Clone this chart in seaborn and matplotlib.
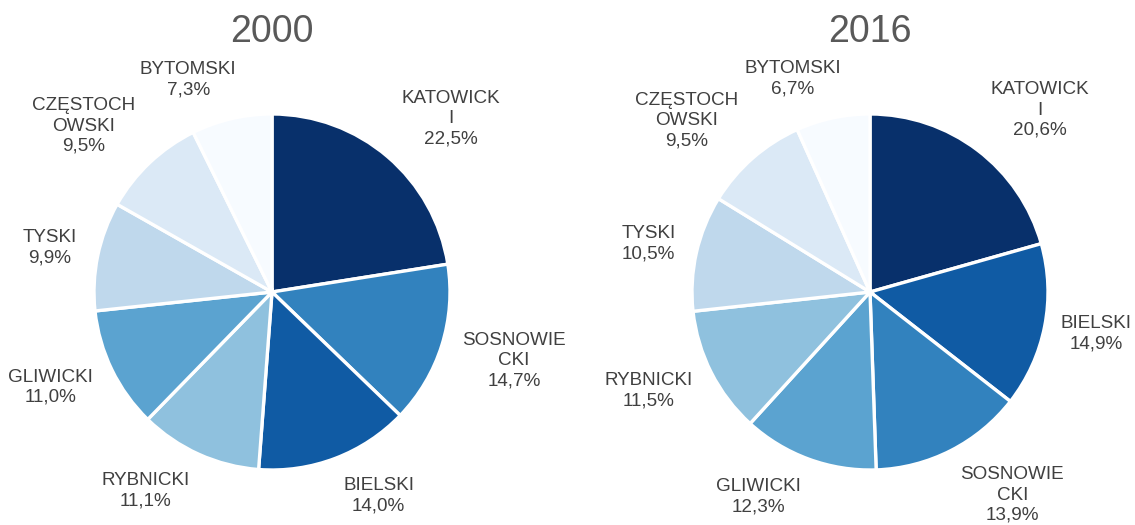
import textwrap
import numpy as np
import matplotlib
matplotlib.use("Agg")
import matplotlib.pyplot as plt
import seaborn as sns

# ---- data ----
categories_2000 = ["KATOWICKI", "SOSNOWIECKI", "BIELSKI", "RYBNICKI",
                   "GLIWICKI", "TYSKI", "CZĘSTOCHOWSKI", "BYTOMSKI"]
values_2000 = [22.5, 14.7, 14.0, 11.1, 11.0, 9.9, 9.5, 7.3]

categories_2016 = ["KATOWICKI", "BIELSKI", "SOSNOWIECKI", "GLIWICKI",
                   "RYBNICKI", "TYSKI", "CZĘSTOCHOWSKI", "BYTOMSKI"]
values_2016 = [20.6, 14.9, 13.9, 12.3, 11.5, 10.5, 9.5, 6.7]

titles = ["2000", "2016"]

category_colors = {
    "KATOWICKI": "#08306b",
    "BIELSKI": "#105ba4",
    "SOSNOWIECKI": "#3282be",
    "GLIWICKI": "#5ba3d0",
    "RYBNICKI": "#8fc1de",
    "TYSKI": "#bfd8ec",
    "CZĘSTOCHOWSKI": "#dbe9f6",
    "BYTOMSKI": "#f7fbff",
}

# ---- style ----
sns.set_theme(style="white")
plt.rcParams['font.family'] = ['Liberation Sans', 'DejaVu Sans']

W, H, DPI = 1135, 525, 100
R = 178.0  # pie radius in pixels
LABEL_COLOR = "#404040"
TITLE_COLOR = "#595959"

fig = plt.figure(figsize=(W / DPI, H / DPI), dpi=DPI)
fig.patch.set_facecolor("white")


def fmt_label(name, val):
    lines = textwrap.wrap(name, 8, break_long_words=True)
    return "\n".join(lines) + "\n" + f"{val:.1f}".replace(".", ",") + "%"


def draw_pie(title, cats, vals, cx, cy):
    ax = fig.add_axes([0, 0, 1, 1])
    colors = [category_colors[c] for c in cats]
    wedges, _ = ax.pie(vals, colors=colors, startangle=90, counterclock=False,
                       wedgeprops=dict(edgecolor="white", linewidth=2.4))
    ax.set_axis_off()
    ax.patch.set_alpha(0)
    ax.set_aspect("auto")
    ax.set_xlim(-cx / R, (W - cx) / R)
    ax.set_ylim(-(H - cy) / R, cy / R)
    ax.text(0, (cy - 31.5) / R, title, ha="center", va="center",
            fontsize=27, color=TITLE_COLOR)
    texts = []
    for w, c, v in zip(wedges, cats, vals):
        th = np.deg2rad((w.theta1 + w.theta2) / 2)
        ax_x, ax_y = 1.12 * np.cos(th), 1.12 * np.sin(th)
        t = ax.text(ax_x, ax_y, fmt_label(c, v), ha="center", va="center",
                    multialignment="center", fontsize=13.6, linespacing=1.25,
                    color=LABEL_COLOR)
        texts.append((t, th, ax_x, ax_y))
    return ax, texts


ax1, texts1 = draw_pie(titles[0], categories_2000, values_2000, 272, 292)
ax2, texts2 = draw_pie(titles[1], categories_2016, values_2016, 870, 292)

fig.canvas.draw()
renderer = fig.canvas.get_renderer()
for t, th, x0, y0 in texts1 + texts2:
    bb = t.get_window_extent(renderer)
    wd, hd = bb.width / R, bb.height / R
    fx = np.clip(3.5 * np.cos(th), -1, 1)
    fy = np.sin(th)
    x = x0 + fx * wd / 2
    y = y0 + fy * hd / 2
    t.set_position((x, y))
    # keep labels inside the canvas
    bb = t.get_window_extent(renderer)
    over_r = bb.x1 - (W - 3)
    over_l = 3 - bb.x0
    if over_r > 0:
        x -= over_r / R
    elif over_l > 0:
        x += over_l / R
    t.set_position((x, y))

fig.savefig("out.png", dpi=DPI, facecolor="white")
